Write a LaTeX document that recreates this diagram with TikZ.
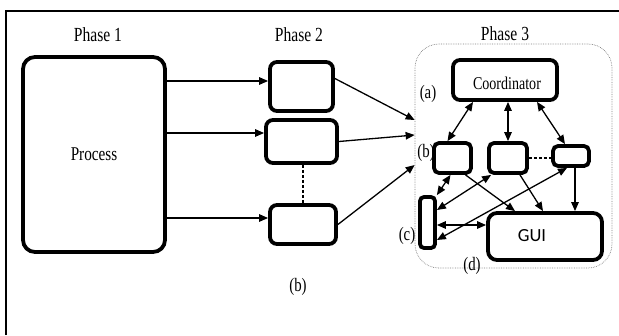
\documentclass[tikz,border=0pt]{standalone}
\usepackage{fontspec}
\setmainfont{Liberation Serif}[FakeStretch=0.78]
\newfontfamily\guifont{Carlito}
\usetikzlibrary{arrows.meta,calc}
\begin{document}
\begin{tikzpicture}[x=1pt,y=-1pt,
  box/.style={draw,line width=3.8pt,rounded corners=7pt,inner sep=0pt},
  arr/.style={line width=1.3pt,-{Triangle[length=9pt,width=7.5pt]}},
  darr/.style={line width=1.3pt,{Triangle[length=9pt,width=7.5pt]}-{Triangle[length=9pt,width=7.5pt]}},
  lbl/.style={font=\fontsize{20}{22}\selectfont,inner sep=0pt},
  tag/.style={font=\fontsize{19}{21}\selectfont,inner sep=0pt},
  dashline/.style={line width=1.3pt,dash pattern=on 3pt off 2pt}]
\useasboundingbox (0,0) rectangle (619,335);
\draw[line width=2pt] (6,335) -- (6,11) -- (619,11);
% labels
\node[lbl] (ph1) at (98,35) {Phase 1};
\node[lbl] (ph2) at (299,35) {Phase 2};
\node[lbl] (ph3l) at (505,34) {Phase 3};
% phase 1
\node[box,rounded corners=12pt,minimum width=142pt,minimum height=195pt,
  font=\fontsize{19.5}{21}\selectfont] (proc) at (94,154.5) {Process};
% phase 2
\node[box,minimum width=63pt,minimum height=49pt] (p1) at (301.5,86.5) {};
\node[box,minimum width=71pt,minimum height=43pt] (p2) at (301.5,141.5) {};
\node[box,minimum width=66pt,minimum height=39pt] (p3) at (303,224.5) {};
\draw[arr] ([yshift=5.5pt]proc.east |- p1.west) -- ([yshift=5.5pt]p1.west);
\draw[arr] ([yshift=8.5pt]proc.east |- p2.west) -- ([yshift=8.5pt]p2.west);
\draw[arr] ([yshift=6.5pt]proc.east |- p3.west) -- ([yshift=6.5pt]p3.west);
\draw[dashline] (p3.north |- p2.south) -- (p3.north);
% phase 3 region
\node[draw=gray,densely dotted,line width=0.7pt,rounded corners=24pt,
  minimum width=197pt,minimum height=224pt,inner sep=0pt] (ph3) at (513.5,156) {};
\path (ph3.west) ++(0,-36) coordinate (e1);
\path (ph3.west) ++(0,-21) coordinate (e2);
\path (ph3.west) ++(0,9) coordinate (e3);
\draw[arr] ([yshift=8pt]p1.east) -- (e1);
\draw[arr] (p2.east) -- (e2);
\draw[arr] (p3.east) -- (e3);
% phase 3 nodes
\node[box,minimum width=104pt,minimum height=40pt] (coord) at (505,80) {};
\node[font=\fontsize{18}{20}\selectfont,inner sep=0pt] (coordt) at (507,83) {Coordinator};
\node[box,rounded corners=5pt,minimum width=37pt,minimum height=30pt] (b1) at (452.5,158) {};
\node[box,rounded corners=5pt,minimum width=38pt,minimum height=30pt] (b2) at (508,158) {};
\node[box,rounded corners=5pt,minimum width=36pt,minimum height=20pt] (b3) at (571,156) {};
\node[box,rounded corners=4pt,minimum width=15pt,minimum height=51pt] (c) at (427.5,222.5) {};
\node[box,rounded corners=9pt,minimum width=114pt,minimum height=47pt] (gui) at (545,236.5) {};
\node[font=\guifont\fontsize{18.5}{20}\selectfont,inner sep=0pt] (guit) at (532,236) {GUI};
\draw[line width=3pt] ([xshift=10pt,yshift=2pt]gui.south west) -- ([xshift=-8pt,yshift=2pt]gui.south east);
% tags
\node[tag] (ta) at (428,94) {(a)};
\node[tag] (tb) at (426,153) {(b)};
\node[tag] (tc) at (407,236) {(c)};
\node[tag] (td) at (472,266) {(d)};
\node[tag] (tbb) at (298,287) {(b)};
% phase 3 connectors
\draw[darr] ([xshift=-32pt]coord.south) -- ([xshift=-5pt]b1.north);
\draw[darr] (b2.north |- coord.south) -- (b2.north);
\draw[darr] ([xshift=32pt]coord.south) -- ([xshift=-6pt]b3.north);
\draw[dashline] (b2.east) -- (b2.east -| b3.west);
\draw[darr] ([xshift=-2pt]b1.south) -- (c.north east);
\draw[darr] ([xshift=4pt]b2.south west) -- ([yshift=12.5pt]c.east);
\coordinate (cg) at ([yshift=-2.5pt]c.east);
\draw[darr] (cg) -- (cg -| gui.west);
\draw[darr] ([xshift=-4pt]b3.south) -- ([yshift=-17.5pt]c.east);
\draw[arr] ([xshift=13pt]b1.south) -- ([xshift=-30pt]gui.north);
\draw[arr] ([xshift=12pt]b2.south) -- ([xshift=-2pt]gui.north);
\coordinate (b3g) at ([xshift=4pt]b3.south);
\draw[arr] (b3g) -- (b3g |- gui.north);
\end{tikzpicture}
\end{document}
